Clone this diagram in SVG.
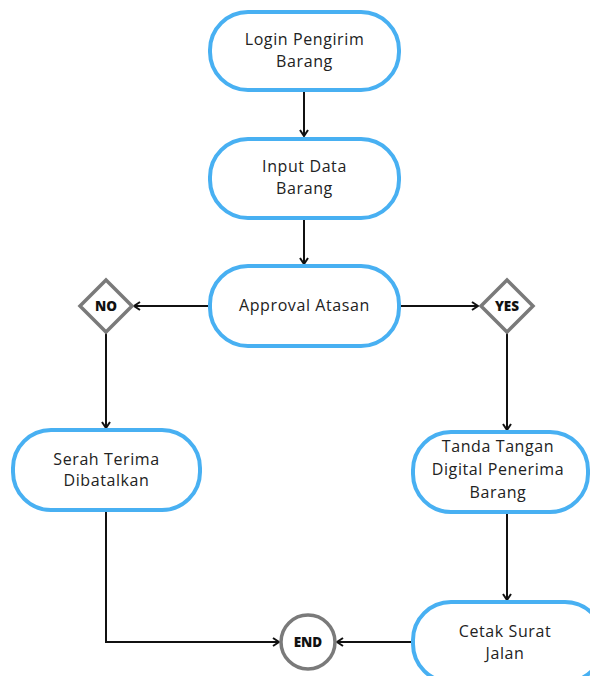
<svg xmlns="http://www.w3.org/2000/svg" width="590" height="676" viewBox="0 0 590 676">
  <defs>
    <marker id="arrow" viewBox="0 0 10 10" refX="9" refY="5" markerWidth="10" markerHeight="10" markerUnits="userSpaceOnUse" orient="auto">
      <path d="M3,1 L9,5 L3,9" fill="none" stroke="#111" stroke-width="2" stroke-linejoin="miter"/>
    </marker>
    <style>
      .proc { fill: #ffffff; stroke: #48b0f2; stroke-width: 4; }
      .dec { fill: #ffffff; stroke: #7a7a7a; stroke-width: 3.5; }
      .lbl { font-family: "Open Sans", "Liberation Sans", sans-serif; font-size: 16px; letter-spacing: 0.6px; fill: #222; text-anchor: middle; }
      .tag { font-family: "Open Sans", "Liberation Sans", sans-serif; font-size: 13.5px; font-weight: 800; fill: #111; text-anchor: middle; }
      .conn { fill: none; stroke: #111; stroke-width: 2; }
    </style>
  </defs>
  <rect width="590" height="676" fill="#ffffff"/>

  <!-- connectors -->
  <g id="connectors">
    <line class="conn" x1="304" y1="90" x2="304" y2="136" marker-end="url(#arrow)"/>
    <line class="conn" x1="304" y1="218" x2="304" y2="264" marker-end="url(#arrow)"/>
    <line class="conn" x1="210" y1="306" x2="134" y2="306" marker-end="url(#arrow)"/>
    <line class="conn" x1="399" y1="306" x2="478" y2="306" marker-end="url(#arrow)"/>
    <line class="conn" x1="106" y1="333" x2="106" y2="428" marker-end="url(#arrow)"/>
    <line class="conn" x1="507" y1="333" x2="507" y2="430" marker-end="url(#arrow)"/>
    <line class="conn" x1="507" y1="512" x2="507" y2="600" marker-end="url(#arrow)"/>
    <polyline class="conn" points="106,511 106,642 279,642" marker-end="url(#arrow)"/>
    <line class="conn" x1="412" y1="642" x2="337" y2="642" marker-end="url(#arrow)"/>
  </g>

  <g id="login">
    <rect class="proc" x="210" y="12" width="189" height="78" rx="38"/>
    <text class="lbl" x="304.5" y="45">Login Pengirim</text>
    <text class="lbl" x="304.5" y="67">Barang</text>
  </g>

  <g id="input">
    <rect class="proc" x="210" y="139" width="189" height="79" rx="38"/>
    <text class="lbl" x="304.5" y="172">Input Data</text>
    <text class="lbl" x="304.5" y="194">Barang</text>
  </g>

  <g id="approval">
    <rect class="proc" x="210" y="266" width="189" height="80" rx="38"/>
    <text class="lbl" x="304.5" y="311">Approval Atasan</text>
  </g>

  <g id="no">
    <polygon class="dec" points="106,280 132,306 106,332 80,306"/>
    <text class="tag" x="106" y="311">NO</text>
  </g>

  <g id="yes">
    <polygon class="dec" points="507,280 533,306 507,332 481,306"/>
    <text class="tag" x="507" y="311">YES</text>
  </g>

  <g id="serah">
    <rect class="proc" x="13" y="430" width="187" height="80" rx="38"/>
    <text class="lbl" x="106.5" y="465">Serah Terima</text>
    <text class="lbl" x="106.5" y="486">Dibatalkan</text>
  </g>

  <g id="tanda">
    <rect class="proc" x="413" y="432" width="175" height="80" rx="38"/>
    <text class="lbl" x="498" y="452">Tanda Tangan</text>
    <text class="lbl" x="498" y="475">Digital Penerima</text>
    <text class="lbl" x="498" y="498">Barang</text>
  </g>

  <g id="cetak">
    <rect class="proc" x="413" y="602" width="190" height="80" rx="38"/>
    <text class="lbl" x="505" y="637">Cetak Surat</text>
    <text class="lbl" x="505" y="659">Jalan</text>
  </g>

  <g id="end">
    <circle class="dec" cx="308" cy="642" r="27"/>
    <text class="tag" x="308" y="647">END</text>
  </g>
</svg>
